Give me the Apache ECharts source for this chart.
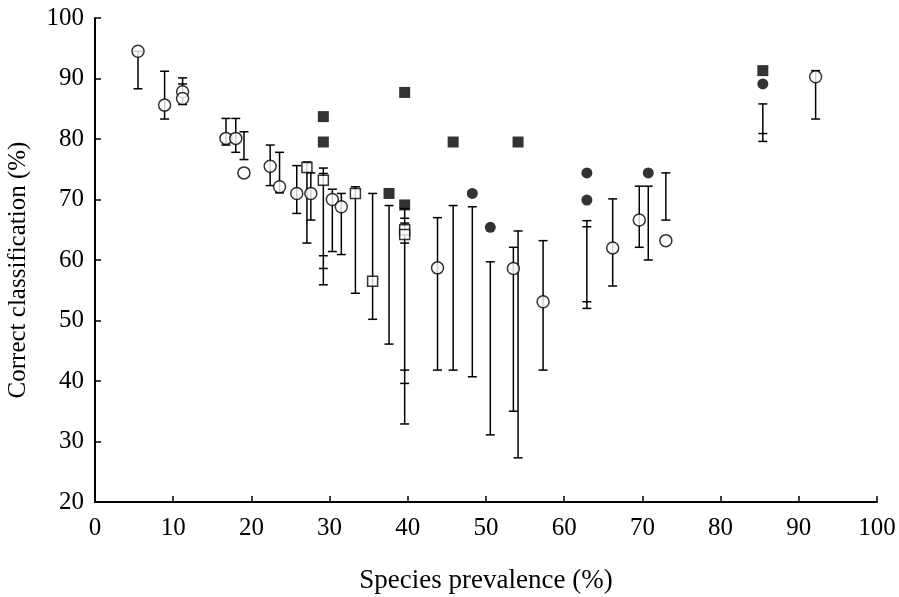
<!DOCTYPE html>
<html>
<head>
<meta charset="utf-8">
<script src="https://cdn.jsdelivr.net/npm/echarts@6/dist/echarts.min.js"></script>
<style>html,body{margin:0;padding:0;background:#fff;}#chart{width:899px;height:597px;}</style>
</head>
<body>
<div id="chart"></div>
<script>
// Data: [prevalence %, correct classification %]
var openCircles = [[5.5,94.5],[8.9,85.6],[11.2,87.8],[11.2,86.7],[16.75,80.1],[18.0,80.1],[19.05,74.4],[22.4,75.5],[23.6,72.1],[25.8,71.0],[27.6,71.0],[30.35,70.0],[31.5,68.8],[43.8,58.7],[53.5,58.6],[57.3,53.1],[66.2,62.0],[69.6,66.6],[73.0,63.2],[92.15,90.3]];
var openSquares = [[27.1,75.3],[29.2,73.2],[33.3,71.0],[35.5,56.5],[39.6,65.0],[39.6,64.2]];
var filledSquares = [[29.2,83.7],[29.2,79.5],[37.6,71.0],[39.6,87.7],[39.6,69.1],[45.8,79.5],[54.1,79.5],[85.4,91.3]];
var filledCircles = [[48.25,71.0],[50.55,65.4],[62.9,74.4],[62.9,69.9],[70.75,74.4],[85.4,89.1]];
// Error bars: [x, low, high]
var errorBars = [[5.5,88.3,94.5],[8.9,83.3,91.2],[11.2,85.7,90.1],[16.75,79.0,83.4],[18.0,77.8,83.4],[19.05,76.6,81.2],[22.4,72.3,79.0],[23.6,71.1,77.8],[25.8,67.7,75.6],[27.1,62.8,76.2],[27.6,66.6,74.4],[29.2,55.9,75.2],[30.35,61.4,71.7],[31.5,60.9,71.0],[33.3,54.5,72.1],[35.5,50.2,71.0],[37.6,46.1,69.0],[39.6,32.9,68.5],[43.8,41.8,67.0],[45.8,41.8,69.0],[48.25,40.7,68.8],[50.55,31.1,59.7],[53.5,35.0,62.1],[54.1,27.3,64.8],[57.3,41.8,63.2],[62.9,52.0,66.5],[66.2,55.7,70.1],[69.6,62.1,72.2],[70.75,60.0,72.2],[73.0,66.6,74.4],[85.4,79.6,85.8],[92.15,83.3,91.3]];
// Extra intermediate caps on some bars: [x, y]
var extraCaps = [[11.2,89.1],[29.2,74.3],[29.2,60.7],[29.2,58.6],[39.6,66.9],[39.6,66.1],[39.6,62.8],[39.6,41.8],[39.6,39.6],[62.9,65.5],[62.9,53.1],[85.4,80.9]];
var xTicks = [0,10,20,30,40,50,60,70,80,90,100];
var yTicks = [20,30,40,50,60,70,80,90,100];

var FONT = 'Liberation Serif';
var chart = echarts.init(document.getElementById('chart'), null, {renderer:'canvas'});
var capW = 4.5;
var option = {
  backgroundColor:'#fff',
  animation:false,
  grid:{left:95, right:22, top:18, bottom:95, containLabel:false, outerBoundsMode:'none'},
  xAxis:{
    type:'value', min:xTicks[0], max:xTicks[xTicks.length-1], interval:10,
    name:'Species prevalence (%)', nameLocation:'middle', nameGap:65,
    nameTextStyle:{fontFamily:FONT, fontSize:27, color:'#000'},
    axisLine:{show:true, onZero:false, lineStyle:{color:'#000', width:2}},
    axisTick:{show:true, inside:true, length:6, lineStyle:{color:'#000', width:1.5}},
    axisLabel:{fontFamily:FONT, fontSize:25, color:'#000', margin:14},
    splitLine:{show:false}
  },
  yAxis:{
    type:'value', min:yTicks[0], max:yTicks[yTicks.length-1], interval:10,
    name:'Correct classification (%)', nameLocation:'middle', nameGap:64, nameRotate:90,
    nameTextStyle:{fontFamily:FONT, fontSize:25, color:'#000', padding:[0,20,0,0]},
    axisLine:{show:true, onZero:false, lineStyle:{color:'#000', width:2}},
    axisTick:{show:true, inside:true, length:6, lineStyle:{color:'#000', width:1.5}},
    axisLabel:{fontFamily:FONT, fontSize:25, color:'#000', margin:11},
    splitLine:{show:false}
  },
  series:[
    {
      type:'custom', z:1,
      data:errorBars,
      encode:{x:0, y:[1,2]},
      renderItem:function(params, api){
        var x = api.value(0), lo = api.value(1), hi = api.value(2);
        var a = api.coord([x, lo]), b = api.coord([x, hi]);
        var st = {stroke:'#000', lineWidth:1.5};
        return {type:'group', children:[
          {type:'line', shape:{x1:a[0], y1:a[1], x2:b[0], y2:b[1]}, style:st},
          {type:'line', shape:{x1:a[0]-capW, y1:a[1], x2:a[0]+capW, y2:a[1]}, style:st},
          {type:'line', shape:{x1:b[0]-capW, y1:b[1], x2:b[0]+capW, y2:b[1]}, style:st}
        ]};
      }
    },
    {
      type:'custom', z:1,
      data:extraCaps,
      encode:{x:0, y:1},
      renderItem:function(params, api){
        var p = api.coord([api.value(0), api.value(1)]);
        return {type:'line', shape:{x1:p[0]-capW, y1:p[1], x2:p[0]+capW, y2:p[1]}, style:{stroke:'#000', lineWidth:1.5}};
      }
    },
    {type:'scatter', z:3, data:openCircles, symbol:'circle', symbolSize:12,
      itemStyle:{color:'#fff', borderColor:'#000', borderWidth:1.5}},
    {type:'scatter', z:3, data:openSquares, symbol:'rect', symbolSize:10,
      itemStyle:{color:'#fff', borderColor:'#000', borderWidth:1.5}},
    {type:'scatter', z:3, data:filledSquares, symbol:'rect', symbolSize:11,
      itemStyle:{color:'#000'}},
    {type:'scatter', z:3, data:filledCircles, symbol:'circle', symbolSize:11,
      itemStyle:{color:'#000'}}
  ]
};
chart.setOption(option);
</script>
</body>
</html>
